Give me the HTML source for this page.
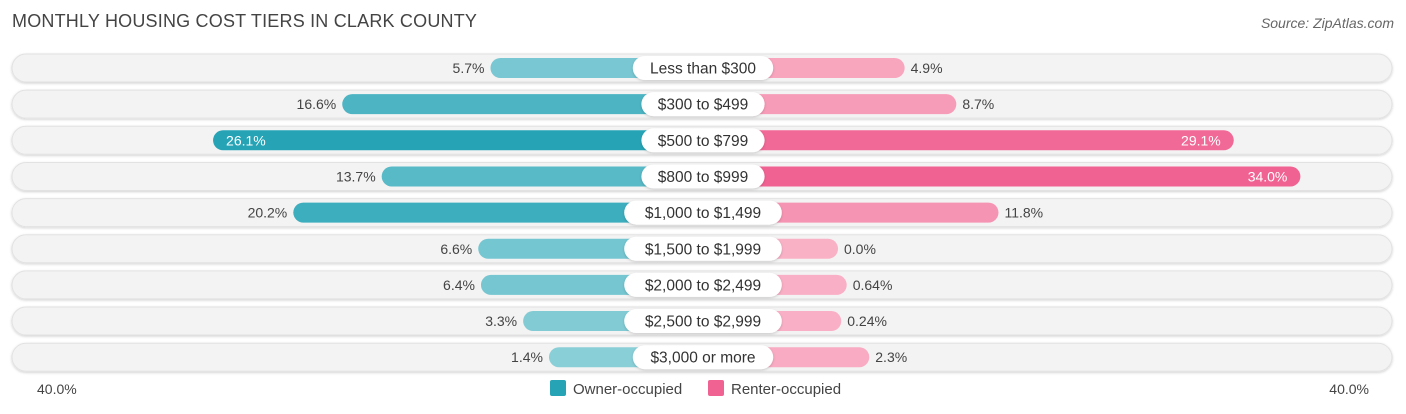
<!DOCTYPE html>
<html><head><meta charset="utf-8">
<style>
body{margin:0;background:#fff;font-family:"Liberation Sans",sans-serif;}
#wrap{position:relative;width:1406px;height:414px;overflow:hidden;}
.title{position:absolute;left:12px;top:11px;font-size:18px;color:#444;letter-spacing:0.2px}
.src{position:absolute;right:12px;top:15px;font-size:14px;color:#666;font-style:italic}
</style></head><body>
<div id="wrap">
<div class="title">MONTHLY HOUSING COST TIERS IN CLARK COUNTY</div>
<div class="src">Source: ZipAtlas.com</div>
<svg id="svg" width="1406" height="414" style="position:absolute;left:0;top:0"></svg>
</div>
<script>
const categories=["Less than $300","$300 to $499","$500 to $799","$800 to $999","$1,000 to $1,499","$1,500 to $1,999","$2,000 to $2,499","$2,500 to $2,999","$3,000 or more"];
const ownerValues=[5.7,16.6,26.1,13.7,20.2,6.6,6.4,3.3,1.4];
const renterValues=[4.9,8.7,29.1,34.0,11.8,0.0,0.64,0.24,2.3];
const ownerLabels=["5.7%","16.6%","26.1%","13.7%","20.2%","6.6%","6.4%","3.3%","1.4%"];
const renterLabels=["4.9%","8.7%","29.1%","34.0%","11.8%","0.0%","0.64%","0.24%","2.3%"];
const axisLabels=["40.0%","40.0%"];
const svg=document.getElementById('svg');const NS="http://www.w3.org/2000/svg";
const cx=703,base=135,scale=13.6,y0=68,dy=36.15;
const x=v=>base+v*scale;
const yc=i=>y0+i*dy;
function mk(t,a,p){const e=document.createElementNS(NS,t);for(const k in a)e.setAttribute(k,a[k]);(p||svg).appendChild(e);return e;}
function mix(a,b,t){return 'rgb('+a.map((c,i)=>Math.round(c+(b[i]-c)*t)).join(',')+')';}
const defs=mk('defs',{});
const f=mk('filter',{id:'sh',x:'-5%',y:'-30%',width:'110%',height:'160%'},defs);
mk('feDropShadow',{dx:0,dy:1,stdDeviation:1.2,'flood-color':'#000','flood-opacity':0.18},f);
categories.forEach((c,i)=>{
 const y=yc(i);
 const row=mk('rect',{x:12,y:y-14,width:1380,height:28,rx:14,fill:'#f3f3f3',stroke:'#e2e2e2',filter:'url(#sh)'});
 
 
 const ov=ownerValues[i],rv=renterValues[i];
 const ow=x(ov),rw=x(rv);
 const ob=mk('rect',{x:cx-ow,y:y-10,width:ow,height:20,rx:10,fill:mix([143,209,218],[38,164,182],Math.min(ov/26,1))});
 
 
 const rb=mk('rect',{x:cx,y:y-10,width:rw,height:20,rx:10,fill:mix([249,177,198],[240,98,146],Math.min(rv/32,1))});
 
 
 const oin=ov>22,rin=rv>22;
 const ot=mk('text',{x:oin?cx-ow+13:cx-ow-6,y:y+5,'font-size':14,fill:oin?'#fff':'#444','text-anchor':oin?'start':'end'});
 ot.textContent=ownerLabels[i];
 
 
 const rt=mk('text',{x:rin?cx+rw-13:cx+rw+6,y:y+5,'font-size':14,fill:rin?'#fff':'#444','text-anchor':rin?'end':'start'});
 rt.textContent=renterLabels[i];
 
 
 const lw=c.length*8.6+20;
 const pill=mk('rect',{x:cx-lw/2,y:y-12,width:lw,height:24,rx:12,fill:'#fff',filter:'url(#sh)'});
 
 
 const lt=mk('text',{x:cx,y:y+5.5,'font-size':15.5,fill:'#333','text-anchor':'middle'});
 lt.textContent=c;
 
 
});
const a1=mk('text',{x:37,y:394,'font-size':14,fill:'#444'});a1.textContent=axisLabels[0];


const a2=mk('text',{x:1369,y:394,'font-size':14,fill:'#444','text-anchor':'end'});a2.textContent=axisLabels[1];


const l1=mk('rect',{x:550,y:380,width:16,height:16,rx:2,fill:'#26a4b6'});


const t1=mk('text',{x:573,y:394,'font-size':15,fill:'#444'});t1.textContent='Owner-occupied';


const l2=mk('rect',{x:708,y:380,width:16,height:16,rx:2,fill:'#f06292'});


const t2=mk('text',{x:731,y:394,'font-size':15,fill:'#444'});t2.textContent='Renter-occupied';


</script>
</body></html>
